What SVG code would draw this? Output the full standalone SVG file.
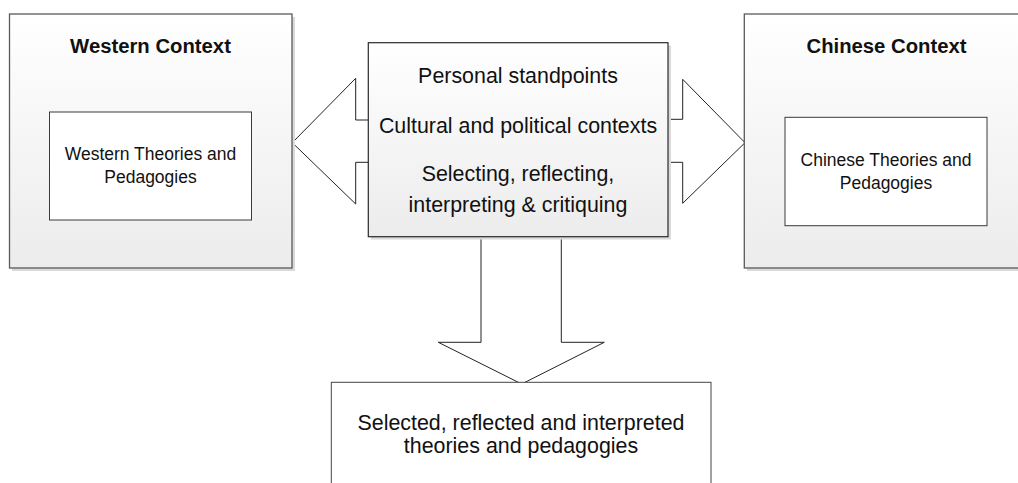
<svg xmlns="http://www.w3.org/2000/svg" width="1018" height="483" viewBox="0 0 1018 483">
<style>
.box{stroke:#5a5a5a;stroke-width:1.3;fill:url(#g)}
.cbox{stroke:#2a2a2a;stroke-width:1.2;fill:url(#g)}
.shadow{fill:#dadada}
.inner{fill:#ffffff;stroke:#3a3a3a;stroke-width:1}
.arrow{fill:#ffffff;stroke:#222;stroke-width:1;stroke-linejoin:miter}
text{font-family:"Liberation Sans",Arial,sans-serif;fill:#111;text-anchor:middle}
.title{font-size:20.3px;font-weight:bold}
.t18{font-size:17.5px}
.t21{font-size:21.4px}
</style>
<defs>
<linearGradient id="g" x1="0" y1="0" x2="0" y2="1">
<stop offset="0" stop-color="#ffffff"/>
<stop offset="1" stop-color="#ececec"/>
</linearGradient>
</defs>
<g id="connectors">
<path class="arrow" d="M292.3,142.7 L355.7,78.3 L355.7,120 L372,120 L372,162.3 L355.7,162.3 L355.7,204 Z"/>
<path class="arrow" d="M745,142.7 L682.7,79.3 L682.7,119.3 L665,119.3 L665,162.3 L682.7,162.3 L682.7,203.3 Z"/>
<path class="arrow" d="M521.7,384 L438.3,342.3 L481,342.3 L481,232 L561.3,232 L561.3,342.3 L604.3,342.3 Z"/>
</g>
<g id="western">
<rect class="shadow" x="12" y="17" width="283" height="254"/>
<rect class="box" x="9.5" y="14" width="282.5" height="254"/>
<text class="title" x="150.5" y="53">Western Context</text>
<rect class="inner" x="49.5" y="112" width="202" height="108"/>
<text class="t18" x="150.5" y="160">Western Theories and</text>
<text class="t18" x="150.5" y="183">Pedagogies</text>
</g>
<g id="chinese">
<rect class="shadow" x="747" y="17" width="283" height="254"/>
<rect class="box" x="744.3" y="14" width="283" height="254"/>
<text class="title" x="886.5" y="53">Chinese Context</text>
<rect class="inner" x="785" y="117.3" width="202" height="108.4"/>
<text class="t18" x="886" y="165.5">Chinese Theories and</text>
<text class="t18" x="886" y="188.5">Pedagogies</text>
</g>
<g id="center">
<rect class="shadow" x="371" y="45.5" width="300" height="194"/>
<rect class="cbox" x="368.3" y="42.7" width="299.7" height="194"/>
<text class="t21" x="518" y="83">Personal standpoints</text>
<text class="t21" x="518" y="133">Cultural and political contexts</text>
<text class="t21" x="518" y="181">Selecting, reflecting,</text>
<text class="t21" x="518" y="212">interpreting &amp; critiquing</text>
</g>
<g id="result">
<rect class="inner" x="331.3" y="382.3" width="379.7" height="120" style="stroke:#444"/>
<text class="t21" x="521" y="430">Selected, reflected and interpreted</text>
<text class="t21" x="521" y="453">theories and pedagogies</text>
</g>
</svg>
